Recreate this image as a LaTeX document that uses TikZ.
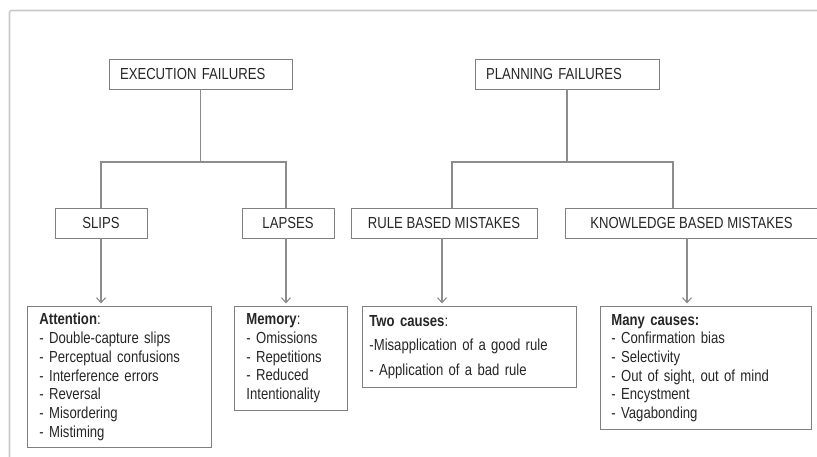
\documentclass[tikz,border=0pt]{standalone}
\usepackage{fontspec}
\setmainfont{Liberation Sans}[FakeStretch=0.82]
\usetikzlibrary{arrows.meta}
\definecolor{txt}{HTML}{262626}
\definecolor{boxc}{HTML}{7F7F7F}
\definecolor{linec}{HTML}{8C8C8C}
\definecolor{framec}{HTML}{C8C8C8}
\begin{document}
\begin{tikzpicture}[x=1pt,y=-1pt,
  every node/.style={text=txt, font=\fontsize{16}{18.7}\selectfont},
  topbox/.style={draw=boxc, line width=0.9pt, minimum height=30pt, inner xsep=11pt, inner ysep=0pt, align=left},
  midbox/.style={draw=boxc, line width=0.9pt, minimum height=30pt, inner sep=0pt, align=center},
  listbox/.style={draw=boxc, line width=0.9pt, inner ysep=0pt, align=left, anchor=north west},
  conn/.style={draw=linec, line width=1.1pt},
  arr/.style={draw=linec, line width=1.1pt, -{Straight Barb[length=5pt,width=9pt]}, shorten >=2.5pt}
]
\useasboundingbox (0,0) rectangle (817,457);
% outer frame
\draw[framec, line width=1.6pt, rounded corners=2pt] (9.5,460) -- (9.5,10.5) -- (820,10.5);

% top level
\node[topbox, text width=161pt] (exec) at (200.5,74) {EXECUTION FAILURES};
\node[topbox, text width=162pt] (plan) at (567,74) {PLANNING FAILURES};

% second level
\node[midbox, minimum width=92pt] (slips) at (101,223) {SLIPS};
\node[midbox, minimum width=92pt] (lapses) at (288,223) {LAPSES};
\node[midbox, minimum width=186pt] (rule) at (444,223) {RULE BASED MISTAKES};
\node[midbox, minimum width=252pt] (know) at (691.5,223) {KNOWLEDGE BASED MISTAKES};

% list boxes
\node[listbox, minimum width=184pt, minimum height=141pt, text width=160pt, inner xsep=12pt] (attn) at (27,306)
 {\textbf{Attention}:\\
  - Double-capture slips\\
  - Perceptual confusions\\
  - Interference errors\\
  - Reversal\\
  - Misordering\\
  - Mistiming};
\node[listbox, minimum width=113pt, minimum height=104pt, text width=89pt, inner xsep=12pt] (mem) at (234,306)
 {\textbf{Memory}:\\
  - Omissions\\
  - Repetitions\\
  - Reduced\\
  Intentionality};
\node[listbox, minimum width=214pt, minimum height=81pt, text width=200pt, inner xsep=4pt] (two) at (362,306)
 {\textbf{Two causes}:\\[5.8pt]
  -Misapplication of a good rule\\[5.8pt]
  - Application of a bad rule};
\node[listbox, minimum width=211pt, minimum height=123pt, text width=189pt, inner xsep=11pt] (many) at (600,306)
 {\textbf{Many causes:}\\
  - Confirmation bias\\
  - Selectivity\\
  - Out of sight, out of mind\\
  - Encystment\\
  - Vagabonding};

% connectors
\coordinate (ej) at (200.5,162);
\coordinate (sj) at (101,162);
\coordinate (lj) at (286,162);
\coordinate (pj) at (567,162);
\coordinate (rj) at (452,162);
\coordinate (kj) at (673,162);

\draw[conn] (exec.south) -- (ej);
\draw[conn] (slips.north) -- (sj) -- (lj) -- (lj |- lapses.north);
\draw[conn] (plan.south) -- (pj);
\draw[conn] (rj |- rule.north) -- (rj) -- (kj) -- (kj |- know.north);

\draw[arr] (slips.south) -- (slips.south |- attn.north);
\draw[arr] ([xshift=-2pt]lapses.south) -- ([xshift=-2pt]lapses.south |- mem.north);
\draw[arr] ([xshift=-2pt]rule.south) -- ([xshift=-2pt]rule.south |- two.north);
\draw[arr] ([xshift=-4.5pt]know.south) -- ([xshift=-4.5pt]know.south |- many.north);
\end{tikzpicture}
\end{document}
